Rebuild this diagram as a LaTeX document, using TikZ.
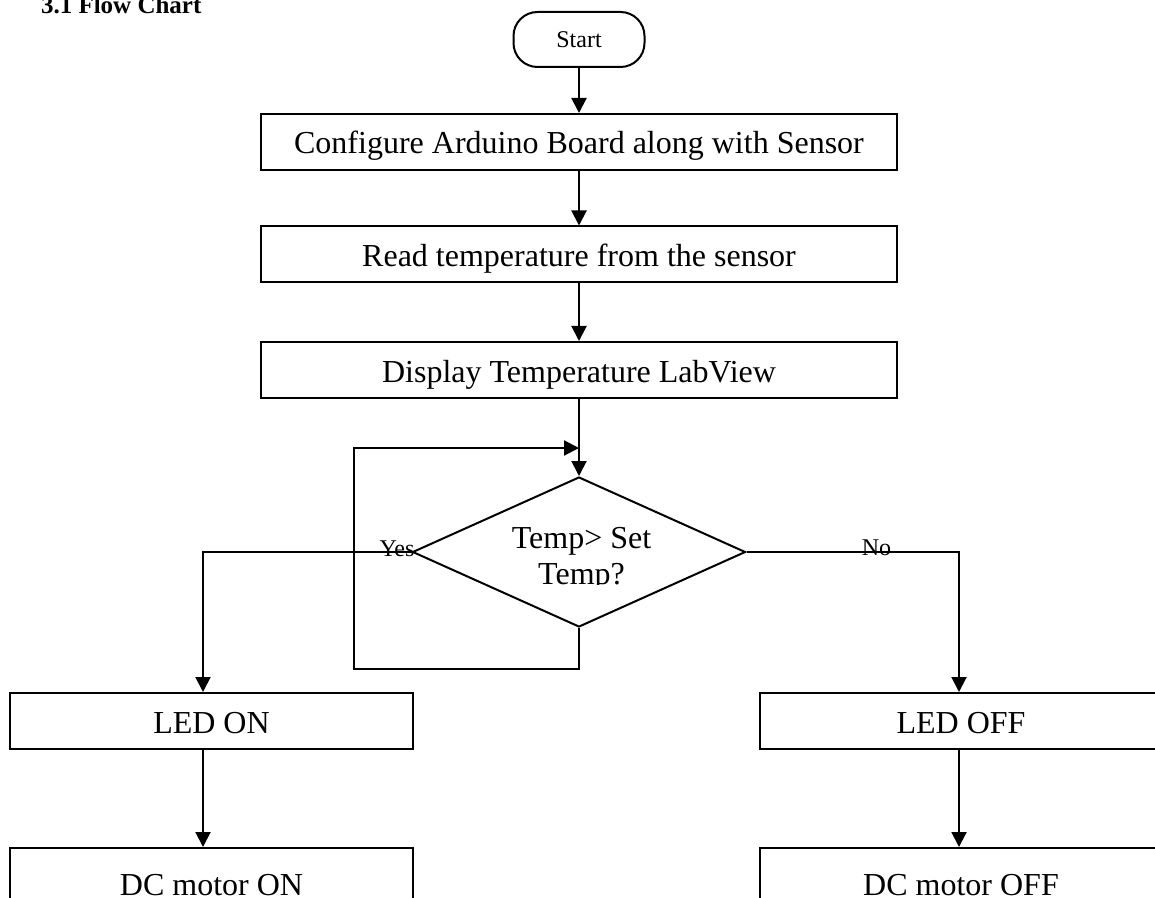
\documentclass[tikz,border=0pt]{standalone}
\usepackage{fontspec}
\setmainfont{Liberation Serif}
\usetikzlibrary{arrows.meta,positioning,shapes.geometric}

\begin{document}
\begin{tikzpicture}[x=0.5pt,y=-0.5pt,line width=1pt,
  >={Triangle[length=7.5pt,width=7.5pt]},
  term/.style={draw,rounded corners=12pt,minimum width=65.5pt,minimum height=27.5pt,inner sep=0pt,text height=8.5pt,text depth=0pt,font=\fontsize{12}{14}\selectfont},
  proc/.style={draw,minimum width=318pt,minimum height=28pt,inner sep=0pt,text height=12pt,text depth=0pt,font=\fontsize{16}{18}\selectfont},
  outc/.style={proc,minimum width=201.5pt},
  every node/.style={font=\fontsize{12}{14}\selectfont}]
\useasboundingbox (0,0) rectangle (1155,898);
\node[anchor=base west,inner sep=0pt,font=\bfseries\fontsize{12.5}{14}\selectfont] (ttl) at (40,14) {3.1 Flow Chart};
\node[term] (start) at (579,39.5) {Start};
\node[proc] (cfg) at (579,142) {Configure Arduino Board along with Sensor};
\node[proc] (rdtemp) at (579,254.5) {Read temperature from the sensor};
\node[proc] (disp) at (579,370) {Display Temperature LabView};
\node[draw,diamond,minimum width=166.5pt,minimum height=75pt,inner sep=0pt] (chk) at (579,552) {};
\begin{scope}
\clip (400,470) rectangle (760,584);
\node[align=center,inner sep=0pt,font=\fontsize{16}{18}\selectfont] (chktxt) at (581.5,559) {Temp> Set\\Temp?};
\end{scope}
\node[outc] (ledon) at (211.5,721) {LED ON};
\node[outc] (ledoff) at (961,721) {LED OFF};
\node[outc,minimum height=35pt] (mton) at (211.5,883) {DC motor ON};
\node[outc,minimum height=35pt] (mtoff) at (961,883) {DC motor OFF};
\coordinate (lp) at (354,669);
\coordinate (back) at (579,448);
\draw[->] (start) -- (cfg);
\draw[->] (cfg) -- (rdtemp);
\draw[->] (rdtemp) -- (disp);
\draw[->] (disp) -- (chk);
\draw[->] (chk.south) |- (lp) |- (back);
\draw[->] (chk.west) -| ([xshift=-4.25pt]ledon.north);
\draw[->] (chk.east) -| ([xshift=-1pt]ledoff.north);
\draw[->] ([xshift=-4.25pt]ledon.south) -- ([xshift=-4.25pt]mton.north);
\draw[->] ([xshift=-1pt]ledoff.south) -- ([xshift=-1pt]mtoff.north);
\node[anchor=base] (yes) at (397,556) {Yes};
\node[anchor=base] (no) at (876.5,555) {No};
\end{tikzpicture}
\end{document}
